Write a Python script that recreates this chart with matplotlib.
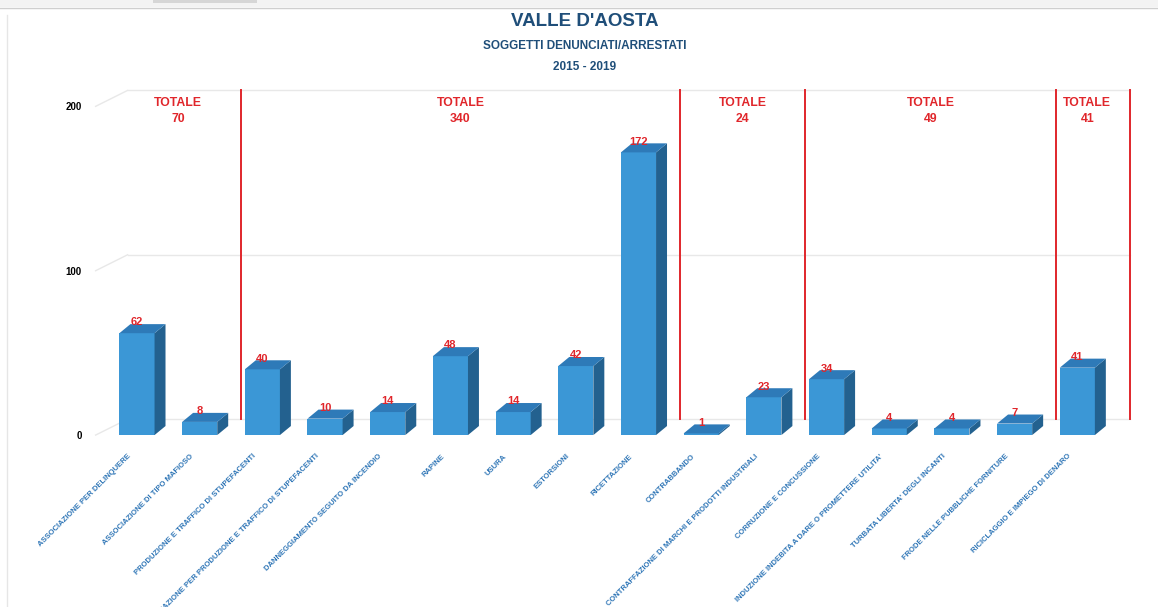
import matplotlib
matplotlib.use('Agg')
import matplotlib.pyplot as plt
from matplotlib.patches import Polygon, Rectangle
from matplotlib.lines import Line2D
import matplotlib.transforms as mtransforms
import numpy as np

categories = [
    "ASSOCIAZIONE PER DELINQUERE",
    "ASSOCIAZIONE DI TIPO MAFIOSO",
    "PRODUZIONE E TRAFFICO DI STUPEFACENTI",
    "ASSOCIAZIONE PER PRODUZIONE E TRAFFICO DI STUPEFACENTI",
    "DANNEGGIAMENTO SEGUITO DA INCENDIO",
    "RAPINE",
    "USURA",
    "ESTORSIONI",
    "RICETTAZIONE",
    "CONTRABBANDO",
    "CONTRAFFAZIONE DI MARCHI E PRODOTTI INDUSTRIALI",
    "CORRUZIONE E CONCUSSIONE",
    "INDUZIONE INDEBITA A DARE O PROMETTERE UTILITA'",
    "TURBATA LIBERTA' DEGLI INCANTI",
    "FRODE NELLE PUBBLICHE FORNITURE",
    "RICICLAGGIO E IMPIEGO DI DENARO",
]
values = [62, 8, 40, 10, 14, 48, 14, 42, 172, 1, 23, 34, 4, 4, 7, 41]
group_sizes = [2, 7, 2, 4, 1]
group_totals = [70, 340, 24, 49, 41]
y_ticks = [0, 100, 200]

plt.rcParams['font.family'] = ['Liberation Sans', 'DejaVu Sans']

front_c = '#3b97d6'
side_c = '#23618f'
top_c = '#2e7ab8'
red = '#e0262b'
title_c = '#1f4e79'
grid_c = '#e8e8e8'

W, H = 1158, 607
fig = plt.figure(figsize=(W / 100, H / 100), dpi=100)
fig.patch.set_facecolor('white')

# window-like decorations
fig.add_artist(Rectangle((0, 1 - 7 / H), 1, 7 / H, transform=fig.transFigure,
                         facecolor='#f3f3f3', edgecolor='none'))
fig.add_artist(Rectangle((153 / W, 1 - 3 / H), 104 / W, 3 / H, transform=fig.transFigure,
                         facecolor='#d6d6d6', edgecolor='none'))
fig.add_artist(Line2D([0, 1], [1 - 7.5 / H] * 2, transform=fig.transFigure,
                      color='#cfcfcf', lw=1))
fig.add_artist(Line2D([7 / W, 7 / W], [0, 1 - 15 / H], transform=fig.transFigure,
                      color='#e6e6e6', lw=1))

ax = fig.add_axes([100 / W, 1 - 440 / H, 1040 / W, 355 / H])
ax.set_xlim(-0.59, 16.0)
ax.set_ylim(-3, 213)
ax.set_facecolor('none')
for s in ax.spines.values():
    s.set_visible(False)

n = len(values)
x = np.arange(n)
w = 0.56
dx = 0.175
dy = 5.5
wall_dx = 0.16
wall_dy = 9.7
wall_left = -0.15
wall_right = n - 1 + 0.5 + 0.34

# back wall gridlines and perspective diagonals
for g in y_ticks:
    ax.plot([wall_left, wall_right], [g + wall_dy] * 2, color=grid_c, lw=1, zorder=1)
    ax.plot([-0.66, wall_left], [g, g + wall_dy], color=grid_c, lw=1, zorder=1, clip_on=False)

# group separators
bounds = np.cumsum(group_sizes) - 0.5
starts = np.concatenate([[0], np.cumsum(group_sizes)[:-1]])
ends = np.cumsum(group_sizes) - 1
for k, b in enumerate(bounds):
    xl = b + wall_dx if k < len(bounds) - 1 else wall_right
    ax.plot([xl, xl], [wall_dy, 200 + wall_dy], color=red, lw=1.4, zorder=2)
for s_, e_, tot in zip(starts, ends, group_totals):
    cx = (s_ + e_) / 2 + wall_dx
    ax.text(cx, 200 + wall_dy - 4, f"TOTALE\n{tot}", ha='center', va='top',
            color=red, fontsize=8.8, fontweight='bold', linespacing=1.45, zorder=5)

# bars with pseudo-3D faces
ax.bar(x, values, width=w, color=front_c, edgecolor='none', zorder=3)
for xi, v in zip(x, values):
    x0, x1 = xi - w / 2, xi + w / 2
    side = Polygon([(x1, 0), (x1 + dx, dy), (x1 + dx, v + dy), (x1, v)],
                   closed=True, facecolor=side_c, edgecolor='none', zorder=3)
    top = Polygon([(x0, v), (x1, v), (x1 + dx, v + dy), (x0 + dx, v + dy)],
                  closed=True, facecolor=top_c, edgecolor='none', zorder=3)
    ax.add_patch(side)
    ax.add_patch(top)
    ax.text(xi, v + 6.5, f"{v}", ha='center', va='center', color=red,
            fontsize=8, fontweight='bold', zorder=6)

# y ticks
ax.set_yticks(y_ticks)
ax.set_yticklabels([str(t) for t in y_ticks], fontsize=7, fontweight='bold', color='black')
ax.tick_params(axis='y', length=0, pad=13)

# x tick labels
ax.set_xticks(x)
ax.set_xticklabels(categories, rotation=45, ha='right', va='center',
                   rotation_mode='anchor', fontsize=5.5, fontweight='bold', color='#2e75b6')
ax.tick_params(axis='x', length=0, pad=11)
offset = mtransforms.ScaledTranslation(-7 / 100, 0, fig.dpi_scale_trans)
for lab in ax.get_xticklabels():
    lab.set_transform(lab.get_transform() + offset)

# titles
fig.text(585 / W, 1 - 22 / H, "VALLE D'AOSTA", ha='center', va='center',
         fontsize=13.5, fontweight='bold', color=title_c)
fig.text(585 / W, 1 - 46 / H, "SOGGETTI DENUNCIATI/ARRESTATI", ha='center', va='center',
         fontsize=8.5, fontweight='bold', color=title_c)
fig.text(585 / W, 1 - 67 / H, "2015 - 2019", ha='center', va='center',
         fontsize=8.5, fontweight='bold', color=title_c)

fig.savefig('out.png', dpi=100, facecolor='white')
